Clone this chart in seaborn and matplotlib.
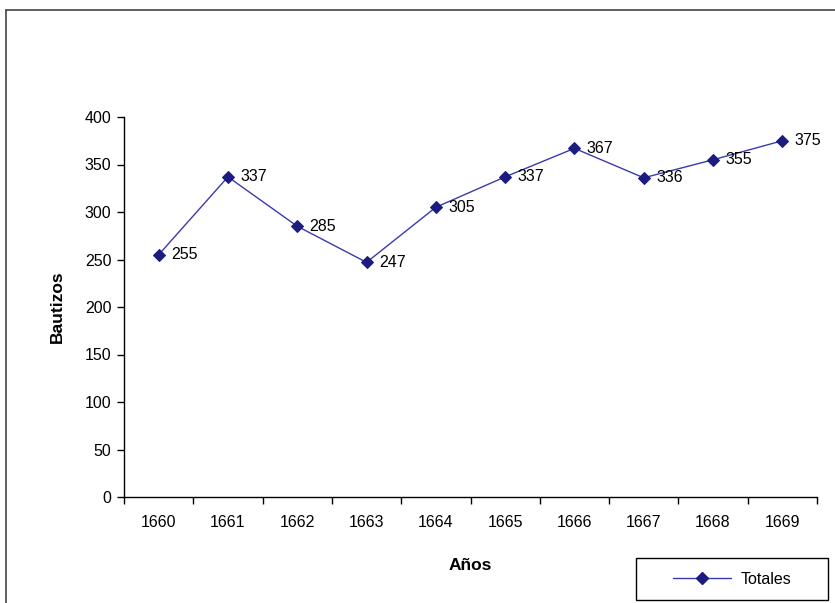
import matplotlib
matplotlib.use("Agg")
import matplotlib.pyplot as plt
import seaborn as sns
import pandas as pd
from matplotlib.lines import Line2D
from matplotlib.patches import Rectangle

# Data
years = ["1660", "1661", "1662", "1663", "1664", "1665", "1666", "1667", "1668", "1669"]
totales = [255, 337, 285, 247, 305, 337, 367, 336, 355, 375]

df = pd.DataFrame({"Años": years, "Bautizos": totales})
df["pos"] = range(len(years))

sns.set_style("white")
plt.rcParams["font.family"] = ["Liberation Sans", "DejaVu Sans"]
plt.rcParams["text.color"] = "black"
plt.rcParams["axes.labelcolor"] = "black"
plt.rcParams["xtick.color"] = "black"
plt.rcParams["ytick.color"] = "black"

line_color = "#3a3ab0"
marker_color = "#1c1c80"

fig = plt.figure(figsize=(8.35, 6.03), dpi=100)
ax = fig.add_axes([124 / 835, 106 / 603, 693 / 835, 380 / 603])

sns.lineplot(data=df, x="pos", y="Bautizos", ax=ax, color=line_color, linewidth=1,
             marker="D", markersize=6, markerfacecolor=marker_color,
             markeredgecolor=marker_color, label="Totales", legend=False)

# data labels
for i, v in enumerate(totales):
    ax.annotate(str(v), (i, v), xytext=(9, 0), textcoords="offset points",
                va="center", ha="left", fontsize=11.5, color="black")

ax.set_xlim(-0.5, len(years) - 0.5)
ax.set_ylim(0, 400)
ax.set_yticks(range(0, 401, 50))
ax.set_xticks(range(len(years)))
ax.set_xticklabels(years)
ax.set_xticks([k - 0.5 for k in range(len(years) + 1)], minor=True)
ax.tick_params(axis="x", which="major", length=0, pad=13, labelsize=11.5, bottom=False)
ax.tick_params(axis="x", which="minor", length=5, width=1, direction="out", bottom=True)
ax.tick_params(axis="y", length=5, width=1, direction="out", labelsize=11.5, pad=4, left=True)

for side in ["top", "right"]:
    ax.spines[side].set_visible(False)
for side in ["left", "bottom"]:
    ax.spines[side].set_color("black")
    ax.spines[side].set_linewidth(1)

ax.set_xlabel("Años", fontsize=12.5, fontweight="bold", labelpad=20)
ax.set_ylabel("Bautizos", fontsize=12.5, fontweight="bold", labelpad=14)

# legend box at the lower right, entry centred inside
box = (636 / 835, 3 / 603, 192 / 835, 42 / 603)
fig.add_artist(Rectangle(box[:2], box[2], box[3], transform=fig.transFigure,
                         fill=False, edgecolor="black", linewidth=1))
handle = Line2D([0], [0], color=line_color, linewidth=1, marker="D", markersize=6,
                markerfacecolor=marker_color, markeredgecolor=marker_color)
fig.legend([handle], ["Totales"], loc="center", bbox_to_anchor=box,
           frameon=False, fontsize=11.5, handlelength=3.6, handletextpad=0.6,
           borderaxespad=0)

# outer chart frame (left and top edges visible)
fig.add_artist(Line2D([6 / 835, 6 / 835], [0, 1 - 10 / 603], color="#444444", linewidth=1.2))
fig.add_artist(Line2D([6 / 835, 1], [1 - 10 / 603, 1 - 10 / 603], color="#444444", linewidth=1.2))

fig.savefig("out.png", dpi=100)
